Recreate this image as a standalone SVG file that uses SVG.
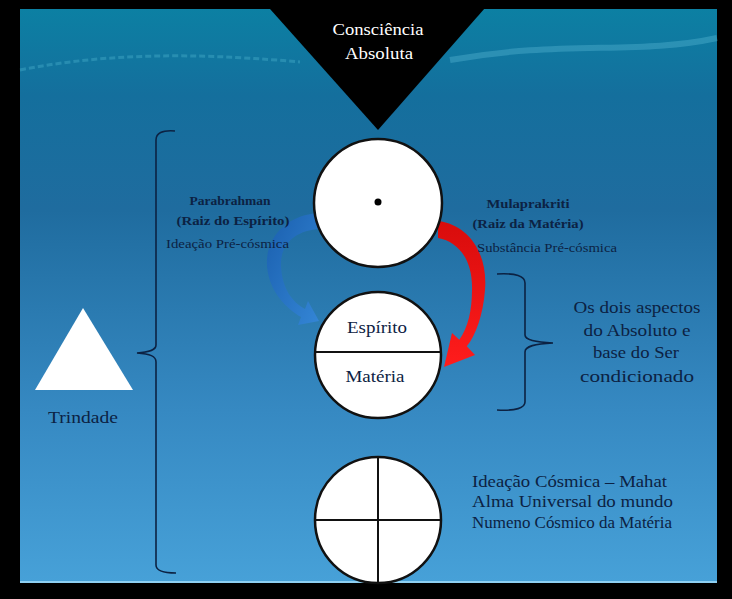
<svg xmlns="http://www.w3.org/2000/svg" width="732" height="599" viewBox="0 0 732 599">
<defs>
<linearGradient id="bg" x1="0" y1="0" x2="0" y2="1">
<stop offset="0" stop-color="#0c80a3"/>
<stop offset="0.15" stop-color="#146f9d"/>
<stop offset="0.35" stop-color="#1f6c9f"/>
<stop offset="0.7" stop-color="#3689c2"/>
<stop offset="1" stop-color="#47a1d8"/>
</linearGradient>
<linearGradient id="blueArrow" x1="0" y1="0" x2="1" y2="1">
<stop offset="0" stop-color="#1a5fae"/>
<stop offset="1" stop-color="#3486d6"/>
</linearGradient>
<linearGradient id="redArrow" x1="0" y1="0" x2="0" y2="1">
<stop offset="0" stop-color="#d80c0c"/>
<stop offset="1" stop-color="#ff1c1c"/>
</linearGradient>
<style>
.circ{fill:#ffffff;stroke:#111111;stroke-width:2.5}
.div{stroke:#111111;stroke-width:2;fill:none}
.brace{fill:none;stroke:#0c2243;stroke-width:1.6}
.t{font-family:"Liberation Serif","DejaVu Serif",serif;fill:#0c2243}
.b{font-weight:bold}
.w{fill:#ffffff}
</style>
</defs>
<rect x="0" y="0" width="732" height="599" fill="#000000"/>
<rect x="20" y="9" width="697" height="574" fill="url(#bg)"/>
<path d="M20,70 C120,50 220,55 300,62" fill="none" stroke="#5cc3dc" stroke-opacity="0.3" stroke-width="3" stroke-dasharray="6 3"/>
<path d="M450,60 C560,40 640,55 717,38" fill="none" stroke="#6ccbe4" stroke-opacity="0.3" stroke-width="6"/>
<rect x="20" y="581" width="697" height="2" fill="#8fd0f2"/>

<g id="consciencia">
<polygon points="262,0 492,0 378,130" fill="#000000"/>
<text class="t w" x="378" y="35" font-size="16" text-anchor="middle" textLength="91" lengthAdjust="spacingAndGlyphs">Consciência</text>
<text class="t w" x="379" y="59" font-size="16" text-anchor="middle" textLength="68" lengthAdjust="spacingAndGlyphs">Absoluta</text>
</g>

<g id="connectors">
<path d="M320,213 C287,214 265,238 267,266 C269,292 287,309 301,317 L298,325 L319,321 L308,301 L305,309 C292,302 282,288 281,266 C280,244 296,230 320,229 Z" fill="url(#blueArrow)"/>
<path d="M438,221 C470,225 488,255 485,290 C483,315 476,335 466.8,346.3 L475,355 L444,367 L452,333 L459.3,339.7 C468,328 472,310 472,290 C473,262 460,242 438,238 Z" fill="url(#redArrow)"/>
<path class="brace" d="M175,131 C162,130 156,133 156,140 L156,345 C156,350 150,352 137,353 C150,354 156,356 156,362 L156,565 C156,570 162,573 176,573"/>
<path class="brace" d="M497,274 C516,273 525,276 525,283 L525,335 C525,340 535,342 553,343 C535,344 525,346 525,352 L525,402 C525,408 516,411 497,410"/>
</g>

<g id="absoluto">
<circle class="circ" cx="378" cy="203" r="64"/>
<circle cx="378" cy="202" r="3.5" fill="#000000"/>
</g>

<g id="espirito-materia">
<circle class="circ" cx="378" cy="355" r="63"/>
<line class="div" x1="315" y1="352" x2="441" y2="352"/>
<text class="t" x="377" y="333" font-size="17" text-anchor="middle" textLength="60" lengthAdjust="spacingAndGlyphs">Espírito</text>
<text class="t" x="375" y="382" font-size="17" text-anchor="middle" textLength="59" lengthAdjust="spacingAndGlyphs">Matéria</text>
</g>

<g id="cosmico">
<circle class="circ" cx="378" cy="520" r="63"/>
<line class="div" x1="315" y1="520" x2="441" y2="520"/>
<line class="div" x1="378" y1="457" x2="378" y2="583"/>
</g>

<g id="trindade">
<polygon points="83,308 35,390 133,390" fill="#ffffff"/>
<text class="t" x="83" y="423" font-size="17" text-anchor="middle" textLength="70" lengthAdjust="spacingAndGlyphs">Trindade</text>
</g>

<g id="parabrahman">
<text class="t b" x="230" y="205" font-size="13" text-anchor="middle" textLength="81" lengthAdjust="spacingAndGlyphs">Parabrahman</text>
<text class="t b" x="233" y="225" font-size="13" text-anchor="middle" textLength="113" lengthAdjust="spacingAndGlyphs">(Raiz do Espírito)</text>
<text class="t" x="166" y="248" font-size="13" textLength="123" lengthAdjust="spacingAndGlyphs">Ideação Pré-cósmica</text>
</g>

<g id="mulaprakriti">
<text class="t b" x="528" y="208" font-size="13" text-anchor="middle" textLength="83" lengthAdjust="spacingAndGlyphs">Mulaprakriti</text>
<text class="t b" x="528" y="228" font-size="13" text-anchor="middle" textLength="111" lengthAdjust="spacingAndGlyphs">(Raiz da Matéria)</text>
<text class="t" x="477" y="252" font-size="13" textLength="140" lengthAdjust="spacingAndGlyphs">Substância Pré-cósmica</text>
</g>

<g id="aspectos">
<text class="t" x="637" y="313" font-size="17" text-anchor="middle" textLength="127" lengthAdjust="spacingAndGlyphs">Os dois aspectos</text>
<text class="t" x="637" y="336" font-size="17" text-anchor="middle" textLength="107" lengthAdjust="spacingAndGlyphs">do Absoluto e</text>
<text class="t" x="636" y="358" font-size="17" text-anchor="middle" textLength="86" lengthAdjust="spacingAndGlyphs">base do Ser</text>
<text class="t" x="637" y="382" font-size="17" text-anchor="middle" textLength="114" lengthAdjust="spacingAndGlyphs">condicionado</text>
</g>

<g id="mahat">
<text class="t" x="472" y="487" font-size="17" textLength="195" lengthAdjust="spacingAndGlyphs">Ideação Cósmica – Mahat</text>
<text class="t" x="472" y="507" font-size="17" textLength="201" lengthAdjust="spacingAndGlyphs">Alma Universal do mundo</text>
<text class="t" x="472" y="528" font-size="17" textLength="200" lengthAdjust="spacingAndGlyphs">Numeno Cósmico da Matéria</text>
</g>
</svg>
